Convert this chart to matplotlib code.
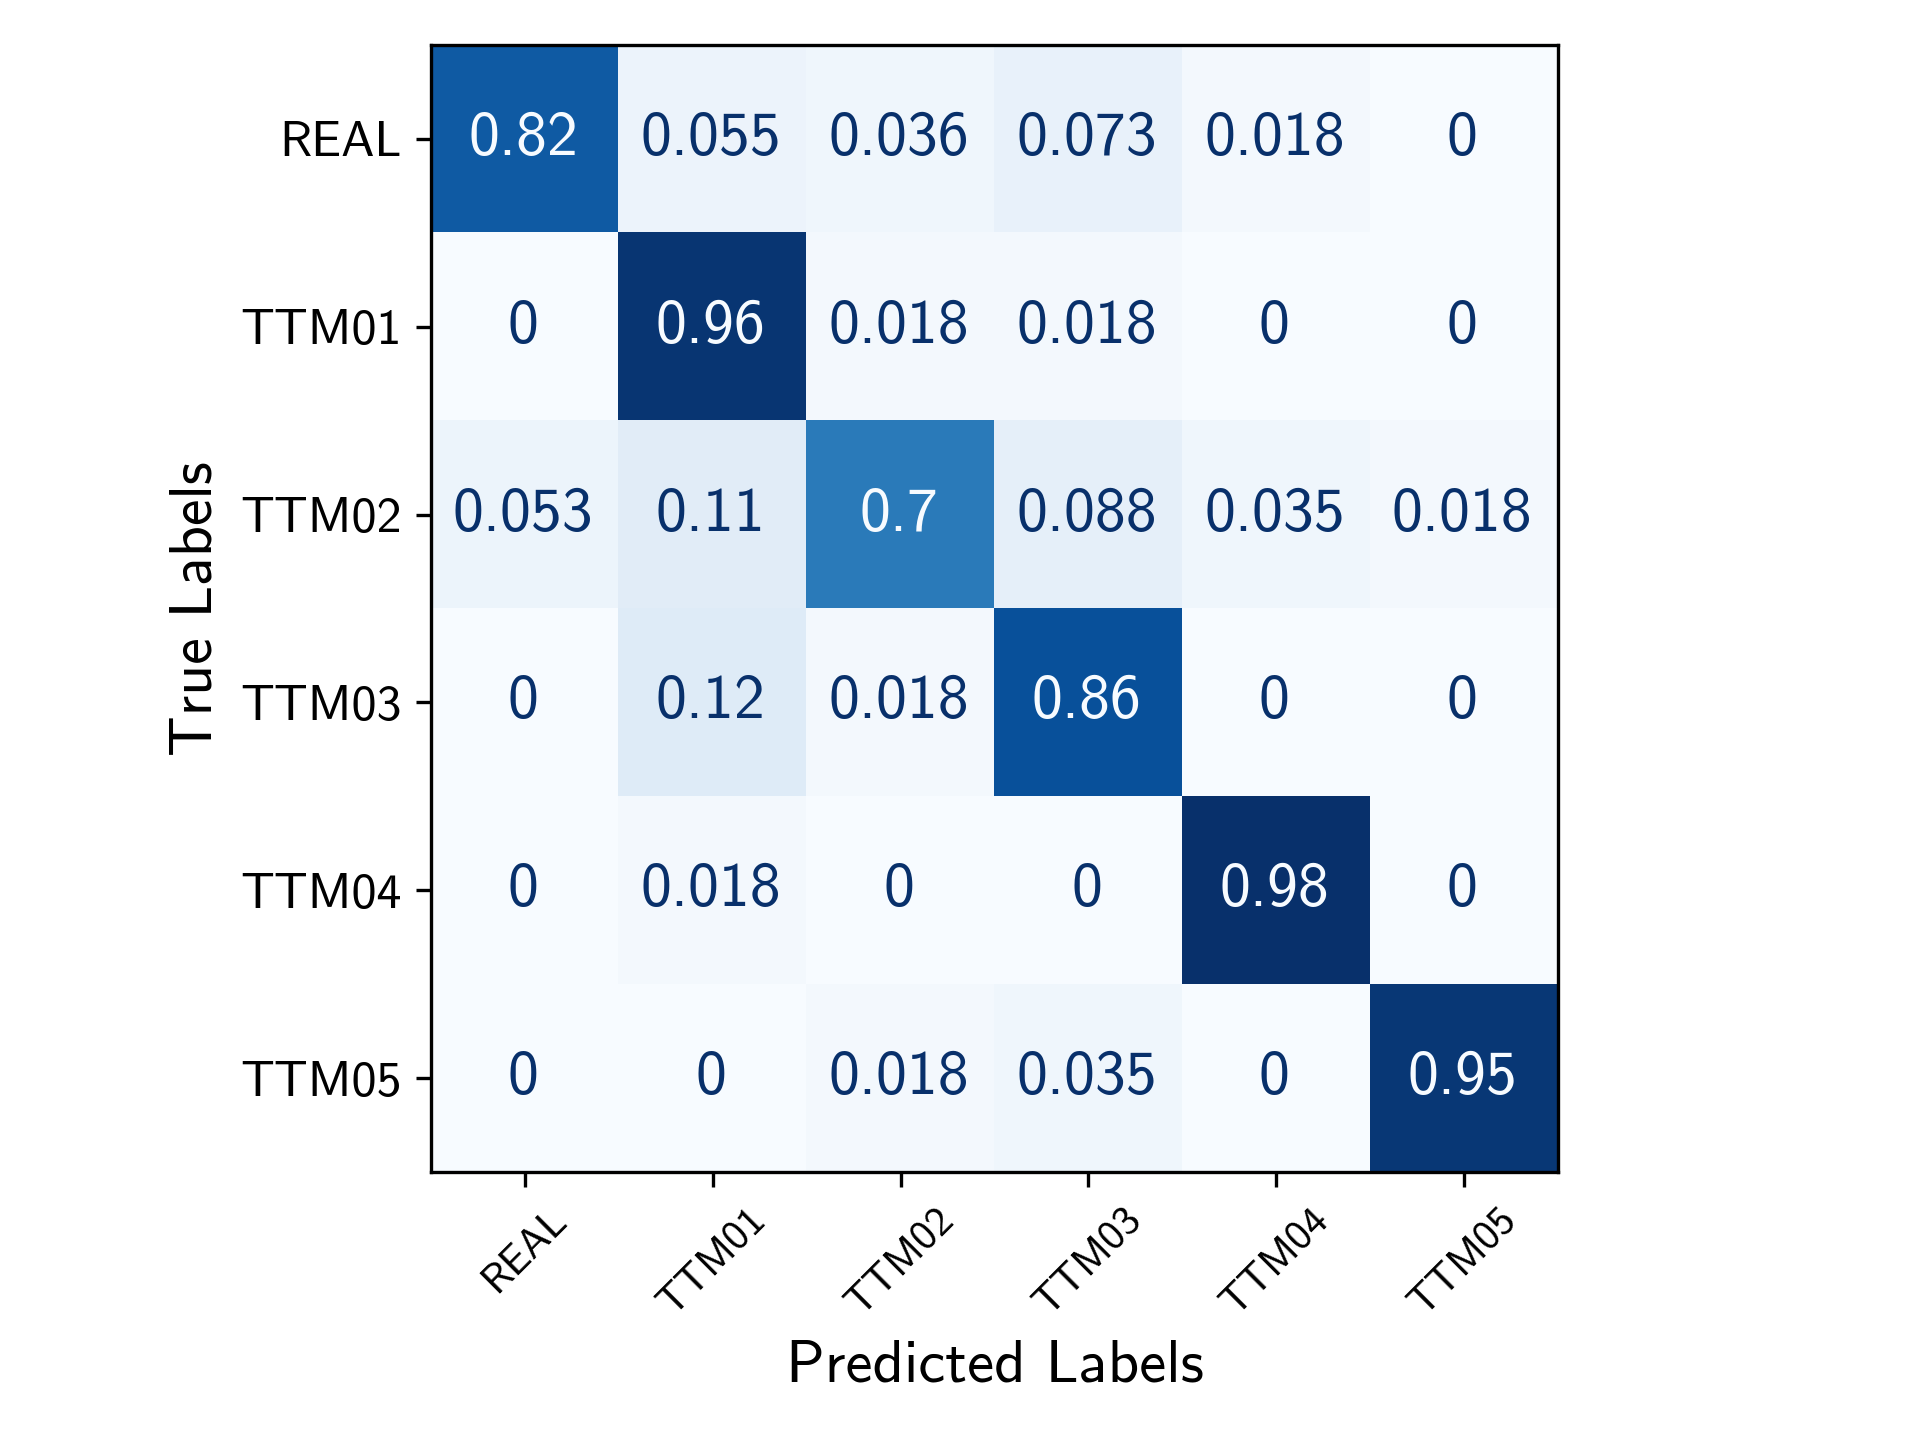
import matplotlib
matplotlib.use("Agg")
import matplotlib.pyplot as plt
import numpy as np

labels = ["REAL", "TTM01", "TTM02", "TTM03", "TTM04", "TTM05"]
row_real = [0.82, 0.055, 0.036, 0.073, 0.018, 0]
row_ttm01 = [0, 0.96, 0.018, 0.018, 0, 0]
row_ttm02 = [0.053, 0.11, 0.7, 0.088, 0.035, 0.018]
row_ttm03 = [0, 0.12, 0.018, 0.86, 0, 0]
row_ttm04 = [0, 0.018, 0, 0, 0.98, 0]
row_ttm05 = [0, 0, 0.018, 0.035, 0, 0.95]

cm = np.array([row_real, row_ttm01, row_ttm02, row_ttm03, row_ttm04, row_ttm05])

plt.rcParams['font.family'] = ['cmss10', 'DejaVu Sans']
plt.rcParams['mathtext.fontset'] = 'cm'
plt.rcParams['axes.unicode_minus'] = False

fig = plt.figure(figsize=(6.4, 4.8), dpi=300)
ax = fig.add_axes([431 / 1920, 1 - 1172 / 1440, 1127 / 1920, 1127 / 1440])

cmap = plt.get_cmap('Blues')
im = ax.imshow(cm, cmap=cmap, interpolation='nearest', vmin=cm.min(), vmax=cm.max())

thresh = (cm.max() + cm.min()) / 2.0
for i in range(cm.shape[0]):
    for j in range(cm.shape[1]):
        v = cm[i, j]
        color = cmap(0.0) if v > thresh else cmap(1.0)
        ax.text(j - 0.01, i, format(v, '.2g'), ha='center', va='center',
                color=color, fontsize=14.8)

ax.set_xticks(range(len(labels)))
ax.set_yticks(range(len(labels)))
ax.set_xticklabels(labels, rotation=45, fontsize=10)
ax.set_yticklabels(labels, fontsize=12)
ax.set_xlabel("Predicted Labels", fontsize=14.6)
ax.set_ylabel("True Labels", fontsize=14.4)

fig.savefig("out.png", dpi=300)
